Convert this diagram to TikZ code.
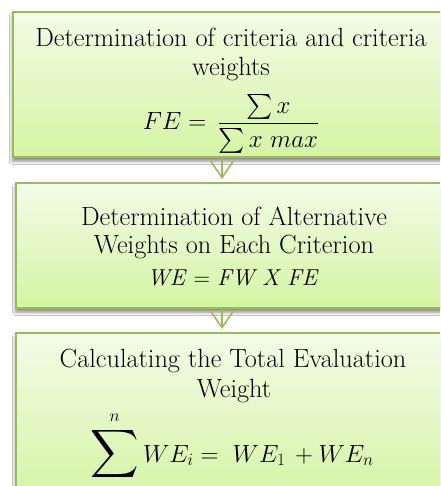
\documentclass[tikz,border=0pt]{standalone}
\usepackage{amsmath}
\usepackage{graphicx}
\usetikzlibrary{shadows.blur,arrows.meta,calc}
\definecolor{boxborder}{RGB}{155,187,89}
\definecolor{boxtop}{RGB}{242,252,231}
\definecolor{boxbot}{RGB}{213,244,163}
\begin{document}
\begin{tikzpicture}[x=1pt,y=-1pt,
  stepbox/.style={draw=boxborder, line width=1.6pt, rectangle, top color=boxtop, bottom color=boxbot, anchor=north west, inner sep=0pt,
    blur shadow={shadow xshift=-0.5pt, shadow yshift=-4.5pt, shadow blur steps=6, shadow opacity=45, shadow blur radius=3pt}},
  txt/.style={anchor=base, inner sep=0pt, font=\fontsize{26.3}{30}\selectfont},
  mth/.style={anchor=base, inner sep=0pt, font=\fontsize{24}{29}\selectfont},
  arr/.style={draw=boxborder, line width=1.6pt, -{Straight Barb[length=16pt,width=22pt]}, shorten >=3pt}
]
\clip (0,0) rectangle (440,486);
\fill[white] (0,0) rectangle (440,486);
\coordinate (ax) at (222,0);
\node[stepbox, minimum width=440pt, minimum height=145pt] (b1) at (12,11) {};
\node[stepbox, minimum width=440pt, minimum height=125pt] (b2) at (15,182) {};
\node[stepbox, minimum width=440pt, minimum height=170pt] (b3) at (15,332) {};
\draw[arr] (b1.south -| ax) -- (b2.north -| ax);
\draw[arr] (b2.south -| ax) -- (b3.north -| ax);
\node[txt] (t1a) at (231,47) {Determination of criteria and criteria};
\node[txt] (t1b) at (231,76) {weights};
\node[mth] (f1) at (231,130) {$FE = \,\dfrac{\sum x}{\sum x\ max}$};
\node[txt] (t2a) at (234,225) {Determination of Alternative};
\node[txt] (t2b) at (234,253) {Weights on Each Criterion};
\node[txt, font=\fontsize{23}{28}\selectfont] (f2) at (233,285) {\textit{WE} = \textit{FW X FE}};
\node[txt] (t3a) at (233,367) {Calculating the Total Evaluation};
\node[txt] (t3b) at (234,397) {Weight};
\node[mth] (f3) at (232,462) {$\displaystyle\mathop{\scalebox{1.35}{$\displaystyle\sum$}}\limits^{n} WE_i = \ WE_1 \,+ WE_n$};
\end{tikzpicture}
\end{document}
